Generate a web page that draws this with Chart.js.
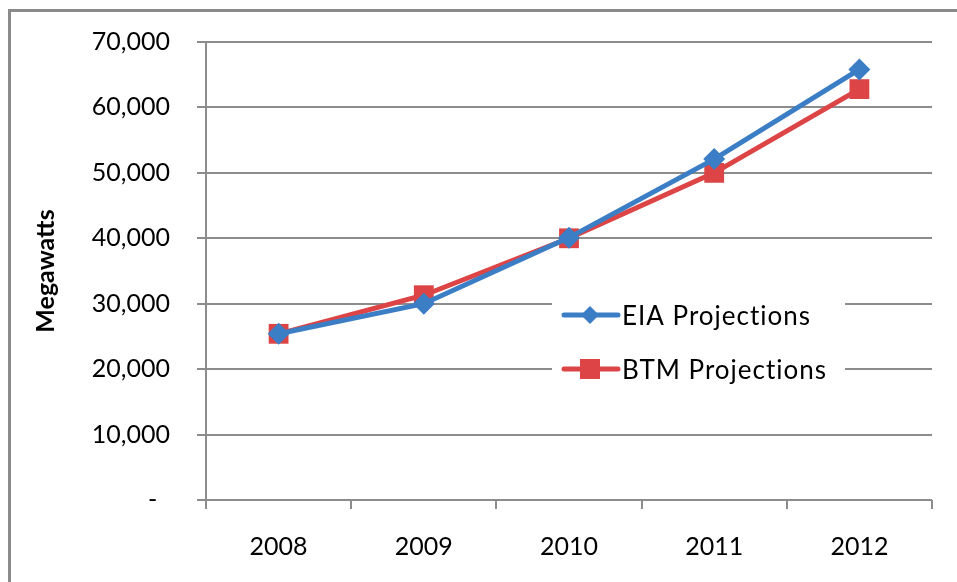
<!DOCTYPE html>
<html>
<head>
<meta charset="utf-8">
<script src="https://cdn.jsdelivr.net/npm/chart.js@4.4.0/dist/chart.umd.min.js"></script>
<style>
  html, body { margin: 0; padding: 0; background: #fff; }
  #wrap { position: relative; width: 957px; height: 582px; overflow: hidden; }
  #frame { position: absolute; left: 8px; top: 9px; width: 1000px; height: 1000px;
           border-left: 3px solid #8a8a8a; border-top: 3px solid #8a8a8a; }
  #chart { position: absolute; left: 0; top: 0; }
</style>
</head>
<body>
<div id="wrap">
  <div id="frame"></div>
  <canvas id="chart" width="957" height="582"></canvas>
</div>
<script>
const years = ['2008', '2009', '2010', '2011', '2012'];
const eiaValues = [25400, 30000, 40100, 52100, 65800];
const btmValues = [25400, 31300, 40000, 50000, 62800];
const yTicks = [0, 10000, 20000, 30000, 40000, 50000, 60000, 70000];

const blue = '#3b7ec5';
const red = '#dc4446';
const gridColor = '#8c8c8c';
const font = 'Lato, "Open Sans", sans-serif';

// legend drawn inside the plot, like the original
const insideLegend = {
    id: 'insideLegend',
    afterDatasetsDraw(chart) {
        const ctx = chart.ctx;
        const area = chart.chartArea;
        const x0 = area.left + 346;
        const y0 = 290;
        ctx.save();
        ctx.fillStyle = '#fff';
        ctx.fillRect(x0, y0, 293, 106);
        chart.data.datasets.forEach((ds, i) => {
            const y = 315 + i * 54;
            ctx.strokeStyle = ds.borderColor;
            ctx.lineWidth = 5;
            ctx.lineCap = 'round';
            ctx.beginPath();
            ctx.moveTo(x0 + 12, y);
            ctx.lineTo(x0 + 66, y);
            ctx.stroke();
            ctx.fillStyle = ds.borderColor;
            const cx = x0 + 38;
            ctx.beginPath();
            if (ds.pointStyle === 'rectRot') {
                ctx.moveTo(cx, y - 9);
                ctx.lineTo(cx + 9, y);
                ctx.lineTo(cx, y + 9);
                ctx.lineTo(cx - 9, y);
                ctx.closePath();
            } else {
                ctx.rect(cx - 10, y - 10, 20, 20);
            }
            ctx.fill();
            ctx.fillStyle = '#000';
            ctx.font = '26px ' + font;
            ctx.letterSpacing = '1px';
            ctx.textBaseline = 'middle';
            ctx.textAlign = 'left';
            ctx.fillText(ds.label, x0 + 70, y + 2);
        });
        ctx.restore();
    }
};

new Chart(document.getElementById('chart'), {
    type: 'line',
    data: {
        labels: years,
        datasets: [{
            label: 'EIA Projections',
            data: eiaValues,
            borderColor: blue,
            backgroundColor: blue,
            borderWidth: 5,
            pointStyle: 'rectRot',
            pointRadius: 11,
            pointBorderWidth: 0,
            tension: 0
        }, {
            label: 'BTM Projections',
            data: btmValues,
            borderColor: red,
            backgroundColor: red,
            borderWidth: 5,
            pointStyle: 'rect',
            pointRadius: 14,
            pointBorderWidth: 0,
            tension: 0
        }]
    },
    options: {
        responsive: false,
        animation: false,
        layout: { padding: { top: 40, right: 25, left: 0, bottom: 0 } },
        plugins: {
            legend: { display: false },
            tooltip: { enabled: false }
        },
        scales: {
            x: {
                offset: true,
                grid: {
                    offset: true,
                    drawOnChartArea: false,
                    drawTicks: true,
                    tickLength: 9,
                    color: gridColor,
                    lineWidth: 2
                },
                border: { display: false },
                ticks: {
                    color: '#000',
                    font: { family: font, size: 25 },
                    padding: 23,
                    maxRotation: 0
                },
                afterFit(scale) { scale.height = 82; }
            },
            y: {
                min: 0,
                max: 70000,
                afterBuildTicks(scale) {
                    scale.ticks = yTicks.map(v => ({ value: v }));
                },
                grid: {
                    color: gridColor,
                    lineWidth: 2,
                    tickLength: 9
                },
                border: { display: true, color: gridColor, width: 2 },
                ticks: {
                    color: '#000',
                    font: { family: font, size: 25 },
                    padding: 27,
                    callback: v => v === 0 ? '-  ' : v.toLocaleString('en-US')
                },
                title: {
                    display: true,
                    text: 'Megawatts',
                    color: '#000',
                    font: { family: font, size: 25, weight: 'bold' },
                    padding: { top: 31, bottom: 0 }
                },
                afterFit(scale) { scale.width = 206; }
            }
        }
    },
    plugins: [insideLegend]
});
</script>
</body>
</html>
